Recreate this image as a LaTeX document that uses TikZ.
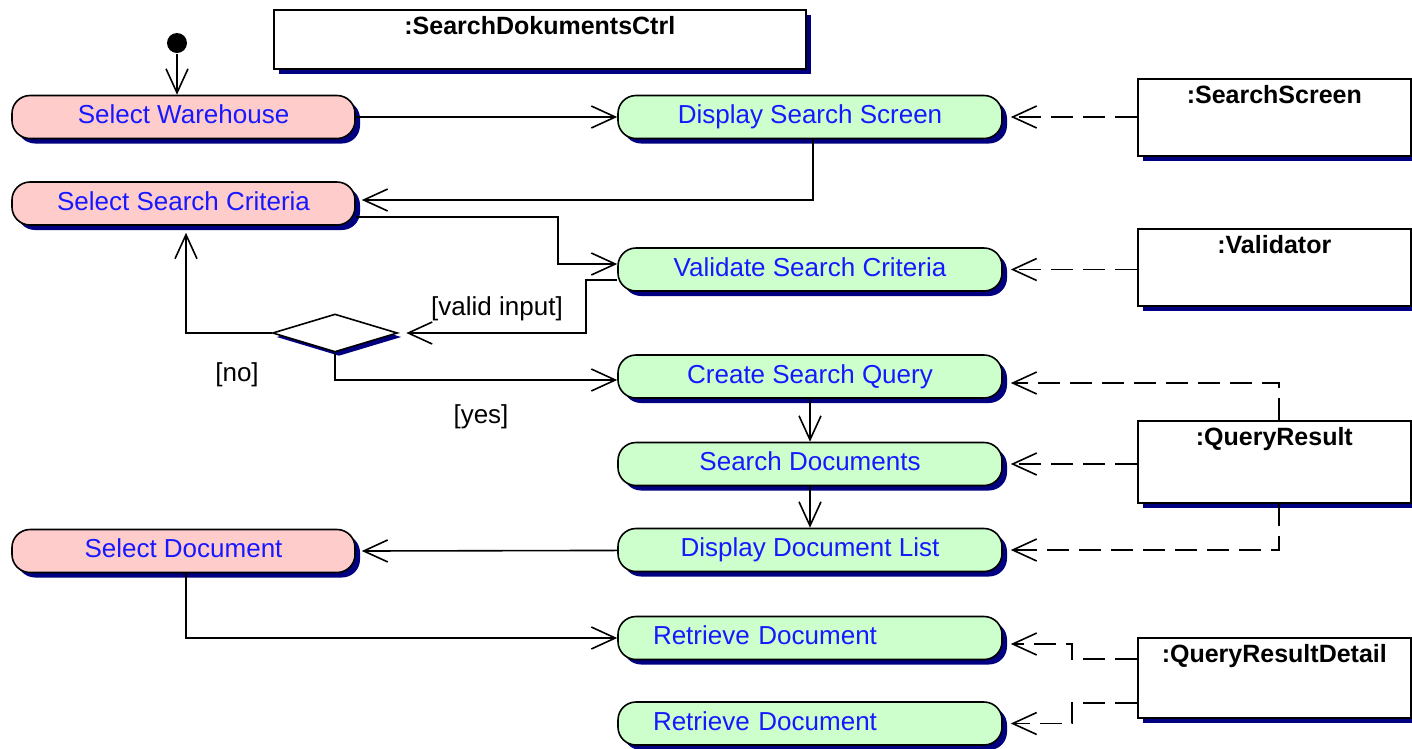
\documentclass[tikz,border=0pt]{standalone}
\usepackage{fontspec}
\setmainfont{Liberation Sans}
\usetikzlibrary{arrows.meta,shapes.geometric,shadows}
\definecolor{actred}{RGB}{255,204,204}
\definecolor{actgreen}{RGB}{204,255,204}
\definecolor{shade}{RGB}{0,0,128}
\definecolor{acttext}{RGB}{24,24,255}

\begin{document}
\begin{tikzpicture}[x=1pt,y=-1pt,line width=1.6pt,
	>={Straight Barb[length=24pt,width=22pt]},
	act/.style={draw,rounded corners=18pt,minimum height=43pt,text height=19pt,text depth=6pt,
		font=\fontsize{26}{30}\selectfont,text=acttext,
		general shadow={fill=shade,shadow xshift=5pt,shadow yshift=-5pt}},
	redact/.style={act,fill=actred,minimum width=343pt},
	greenact/.style={act,fill=actgreen,minimum width=384pt},
	retr/.style={inner xsep=35pt,text width=314pt,align=left},
	objbox/.style={draw,fill=white,anchor=north west,minimum width=273pt,inner ysep=4pt,text height=21pt,
		font=\fontsize{25}{29}\selectfont\bfseries,
		general shadow={fill=shade,shadow xshift=5pt,shadow yshift=-5pt}},
	decision/.style={diamond,draw,fill=white,minimum width=125pt,minimum height=38pt,inner sep=0pt,
		general shadow={fill=shade,shadow xshift=4pt,shadow yshift=-4pt}},
	guard/.style={font=\fontsize{26}{30}\selectfont},
	dep/.style={dash pattern=on 22pt off 10pt}]
	\useasboundingbox (0,0) rectangle (1412,748);
	\node (init) [circle,fill=black,minimum size=20pt,inner sep=0pt] at (177,43) {};
	\node (ctrl) [objbox,minimum width=532pt,text depth=30pt] at (273,9) {:SearchDokumentsCtrl};
	\node (sw) [redact] at (183.5,117) {Select Warehouse};
	\node (ssc) [redact] at (183.5,203.5) {Select Search Criteria};
	\node (sd) [redact] at (183.5,551) {Select Document};
	\node (dss) [greenact] at (810,117) {Display Search Screen};
	\node (vsc) [greenact] at (810,269.5) {Validate Search Criteria};
	\node (csq) [greenact] at (810,376.5) {Create Search Query};
	\node (sdoc) [greenact] at (810,464) {Search Documents};
	\node (ddl) [greenact] at (810,550) {Display Document List};
	\node (rd1) [greenact,retr] at (810,638) {Retrieve Document};
	\node (rd2) [greenact,retr] at (810,723.5) {Retrieve Document};
	\node (ss) [objbox,text depth=48pt] at (1137,78) {:SearchScreen};
	\node (vdt) [objbox,text depth=48pt] at (1137,228) {:Validator};
	\node (qr) [objbox,text depth=53pt] at (1137,420) {:QueryResult};
	\node (qrd) [objbox,text depth=51pt] at (1137,637) {:QueryResultDetail};
	\node (dec) [decision] at (335,333) {};
	\node (lvalid) [guard] at (497,309) {[valid input]};
	\node (lno) [guard] at (237,375) {[no]};
	\node (lyes) [guard] at (481,417) {[yes]};
	% control flow
	\draw [->](init)--(init |- sw.north);
	\draw [->](sw)--(dss);
	\draw [->]([xshift=3pt]dss.south)|-([xshift=6pt,yshift=3.5pt]ssc.east);
	\draw [->]([yshift=-13.5pt]ssc.east)-|(558,240)|-([yshift=5.5pt]vsc.west);
	\draw [->]([yshift=-10.5pt]vsc.west)-|(586,300)|-([xshift=8pt]dec.east);
	\draw [->](dec.west)-|([xshift=2.5pt,yshift=-7pt]ssc.south);
	\draw [->](dec.south)|-([yshift=-3.5pt]csq.west);
	\draw [->](csq)--(sdoc);
	\draw [->](sdoc)--(ddl);
	\draw [->](ddl)--([xshift=6pt]sd.east);
	\draw [->]([xshift=2.5pt]sd.south)|-(rd1.west);
	% object flow
	\draw [->,dep](ss.west |- dss.east)--([xshift=8pt]dss.east);
	\draw [->,dep](vdt.west |- vsc.east)--([xshift=8pt]vsc.east);
	\draw [->,dep]([xshift=4.5pt]qr.north)|-([xshift=8pt,yshift=-6.5pt]csq.east);
	\draw [->,dep](qr.west |- sdoc.east)--([xshift=8pt]sdoc.east);
	\draw [->,dep]([xshift=4.5pt]qr.south)|-([xshift=8pt]ddl.east);
	\draw [->,dep]([yshift=19pt]qrd.west)-|(1072,650)|-([xshift=8pt,yshift=-6pt]rd1.east);
	\draw [->,dep]([yshift=-25pt]qrd.west)-|(1072,712)|-([xshift=8pt]rd2.east);
\end{tikzpicture}
\end{document}
